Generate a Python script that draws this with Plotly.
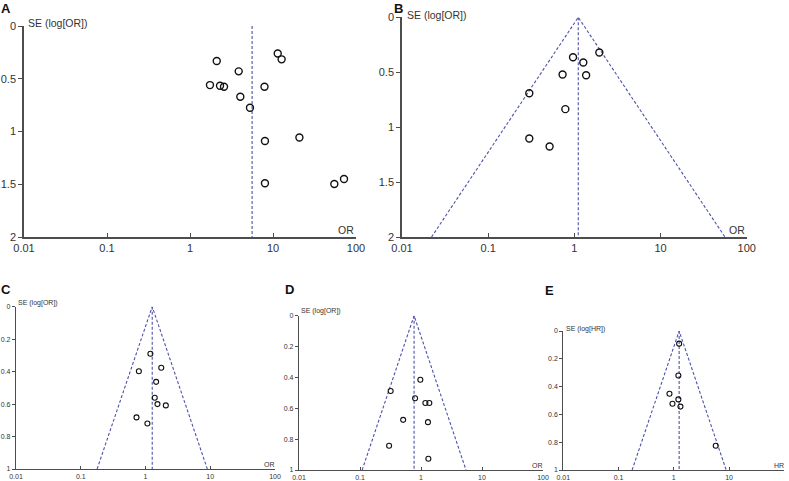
import math
import plotly.graph_objects as go

W, H = 789, 481

# ---------------- data ----------------
tick_vals_x = [0.01, 0.1, 1, 10, 100]
tick_text_x = ["0.01", "0.1", "1", "10", "100"]
se_ticks_big = [0, 0.5, 1, 1.5, 2]
se_ticks_small = [0, 0.2, 0.4, 0.6, 0.8, 1]

a_or = [11.4, 12.7, 2.1, 3.86, 1.74, 2.3, 2.57, 7.9, 4.04, 5.28, 20.8, 8.0, 8.0, 54.8, 71.7]
a_se = [0.26, 0.316, 0.332, 0.43, 0.56, 0.566, 0.576, 0.576, 0.67, 0.775, 1.057, 1.09, 1.49, 1.497, 1.45]
a_center = 5.6
a_semax = 2.0

b_or = [1.95, 0.965, 1.27, 0.73, 1.37, 0.30, 0.786, 0.30, 0.516]
b_se = [0.321, 0.364, 0.412, 0.521, 0.527, 0.691, 0.836, 1.103, 1.176]
b_center = 1.11
b_semax = 2.0

c_or = [1.19, 1.75, 0.79, 1.46, 1.39, 1.53, 2.06, 0.726, 1.07]
c_se = [0.29, 0.376, 0.398, 0.463, 0.561, 0.60, 0.608, 0.682, 0.72]
c_center = 1.27
c_semax = 1.0

d_or = [0.975, 0.318, 0.80, 1.18, 1.37, 0.51, 1.30, 0.30, 1.32]
d_se = [0.415, 0.488, 0.535, 0.566, 0.566, 0.675, 0.69, 0.843, 0.927]
d_center = 0.77
d_semax = 1.0

e_hr = [1.25, 1.21, 0.835, 1.21, 0.946, 1.32, 5.74]
e_se = [0.091, 0.32, 0.451, 0.492, 0.523, 0.544, 0.826]
e_center = 1.25
e_semax = 1.0

# ---------------- layout helpers ----------------
FONT = "Liberation Sans, Arial, sans-serif"
LINE_C = "#4d4d4d"
DASH_C = "#4c52a8"
TXT_C = "#333333"

def px_x(p):
    return p / W

def px_y(p):
    return 1 - p / H

# panel pixel boxes: (left, right, top, bottom)
panels = {
    "A": dict(box=(24, 356, 26, 237), big=True),
    "B": dict(box=(402, 746.7, 17.3, 237), big=True),
    "C": dict(box=(16, 275, 306.7, 469), big=False),
    "D": dict(box=(299, 543, 315.7, 470), big=False),
    "E": dict(box=(563.3, 784.3, 331, 470), big=False),
}

fig = go.Figure()
layout = dict(
    width=W, height=H,
    margin=dict(l=0, r=0, t=0, b=0, autoexpand=False),
    paper_bgcolor="white", plot_bgcolor="white",
    showlegend=False,
    template="none",
    font=dict(family=FONT, color=TXT_C),
)

names = ["A", "B", "C", "D", "E"]
for i, n in enumerate(names):
    idx = "" if i == 0 else str(i + 1)
    l, r, t, b = panels[n]["box"]
    big = panels[n]["big"]
    fs = 11 if big else 7
    layout["xaxis" + idx] = dict(
        domain=[px_x(l), px_x(r)], anchor="y" + idx, type="log",
        range=[-2, 2], tickvals=tick_vals_x, ticktext=tick_text_x,
        showgrid=False, zeroline=False, showline=True, linecolor=LINE_C,
        linewidth=1.5 if big else 1.2, ticks="inside", ticklen=4 if big else 3,
        tickcolor=LINE_C, tickwidth=1, tickfont=dict(size=fs, color=TXT_C),
        fixedrange=True, automargin=False,
    )
    layout["yaxis" + idx] = dict(
        domain=[px_y(b), px_y(t)], anchor="x" + idx,
        range=[2, 0] if big else [1, 0],
        tickvals=se_ticks_big if big else se_ticks_small,
        ticktext=[("%g" % v) for v in (se_ticks_big if big else se_ticks_small)],
        showgrid=False, zeroline=False, showline=True, linecolor=LINE_C,
        linewidth=1.5 if big else 1.2, ticks="outside", ticklen=4 if big else 3,
        tickcolor=LINE_C, tickwidth=1, tickfont=dict(size=fs, color=TXT_C),
        fixedrange=True, automargin=False,
    )

def add_funnel(center, semax, xa, ya, with_funnel=True):
    if with_funnel:
        lo = center * math.exp(-1.96 * semax)
        hi = center * math.exp(1.96 * semax)
        fig.add_trace(go.Scatter(
            x=[lo, center, hi], y=[semax, 0, semax], mode="lines",
            line=dict(color=DASH_C, width=1.1, dash="3px,2px"),
            xaxis=xa, yaxis=ya, hoverinfo="skip"))
    fig.add_trace(go.Scatter(
        x=[center, center], y=[0, semax], mode="lines",
        line=dict(color=DASH_C, width=1.1, dash="3px,2px"),
        xaxis=xa, yaxis=ya, hoverinfo="skip"))

def add_points(xs, ys, xa, ya, big):
    fig.add_trace(go.Scatter(
        x=xs, y=ys, mode="markers",
        marker=dict(symbol="circle-open", size=7 if big else 5,
                    color="#111111", line=dict(width=1.4 if big else 1.1, color="#111111")),
        xaxis=xa, yaxis=ya))

add_funnel(a_center, a_semax, "x", "y", with_funnel=False)
add_points(a_or, a_se, "x", "y", True)
add_funnel(b_center, b_semax, "x2", "y2")
add_points(b_or, b_se, "x2", "y2", True)
add_funnel(c_center, c_semax, "x3", "y3")
add_points(c_or, c_se, "x3", "y3", False)
add_funnel(d_center, d_semax, "x4", "y4")
add_points(d_or, d_se, "x4", "y4", False)
add_funnel(e_center, e_semax, "x5", "y5")
add_points(e_hr, e_se, "x5", "y5", False)

annotations = []

def ann(text, x, y, size, xanchor="left", yanchor="middle", bold=False, color=TXT_C):
    annotations.append(dict(
        text=("<b>%s</b>" % text) if bold else text,
        x=px_x(x), y=px_y(y), xref="paper", yref="paper",
        xanchor=xanchor, yanchor=yanchor, showarrow=False, borderpad=0,
        font=dict(size=size, family=FONT, color=color)))

# panel letters
ann("A", 0, 0.5, 13, yanchor="top", bold=True, color="#111111")
ann("B", 393, 0.5, 13, yanchor="top", bold=True, color="#111111")
ann("C", 0, 289, 13, bold=True, color="#111111")
ann("D", 284, 289, 13, bold=True, color="#111111")
ann("E", 544, 290, 13, bold=True, color="#111111")

# y-axis titles
ann("SE (log[OR])", 27, 23, 10.5)
ann("SE (log[OR])", 406, 15, 10.5)
ann("SE (log[OR])", 17, 303, 7)
ann("SE (log[OR])", 300, 311, 7)
ann("SE (log[HR])", 565, 329, 7)

# x-axis titles
ann("OR", 355, 230, 10.5, xanchor="right")
ann("OR", 746, 230, 10.5, xanchor="right")
ann("OR", 276, 464, 7, xanchor="right")
ann("OR", 544, 465, 7, xanchor="right")
ann("HR", 785, 465, 7, xanchor="right")

layout["annotations"] = annotations
fig.update_layout(**layout)

fig.write_html(
    "out.html",
    config={"displayModeBar": False},
    post_script="document.body.style.margin='0';document.body.style.padding='0';document.body.style.overflow='hidden';",
)
